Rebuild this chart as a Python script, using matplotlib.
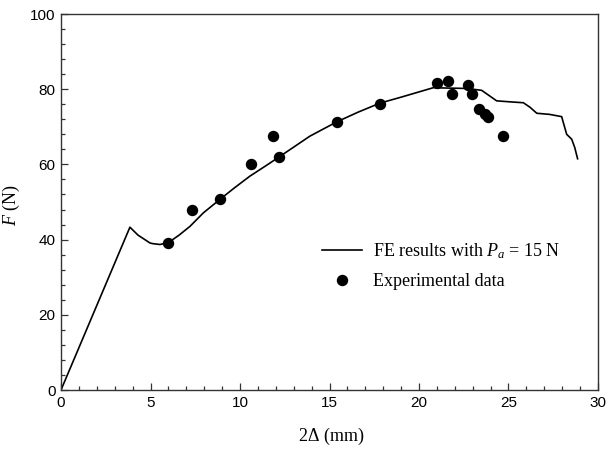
import matplotlib
matplotlib.use("Agg")
import matplotlib.pyplot as plt
from matplotlib.ticker import MultipleLocator

plt.rcParams['mathtext.fontset'] = 'custom'
plt.rcParams['mathtext.rm'] = 'Liberation Serif'
plt.rcParams['mathtext.it'] = 'Liberation Serif:italic'

# FE curve
fe_x = [0.0, 3.85, 4.3, 4.97, 5.16, 5.53, 6.0, 6.6, 7.2, 7.95, 8.88, 9.7, 10.56, 11.4, 12.16,
        13.0, 13.9, 15.4, 16.6, 17.82, 18.94, 20.8, 21.6, 22.66, 23.5, 24.34, 25.2, 25.83,
        26.2, 26.58, 27.3, 27.97, 28.1, 28.25, 28.53, 28.7, 28.86]
fe_y = [0.0, 43.3, 41.2, 39.1, 38.9, 38.7, 39.2, 41.2, 43.5, 47.1, 50.7, 53.8, 56.9, 59.5, 61.9,
        64.6, 67.5, 71.3, 73.9, 76.3, 77.8, 80.4, 80.3, 80.2, 79.7, 76.9, 76.6, 76.4,
        75.2, 73.6, 73.3, 72.7, 70.5, 68.0, 66.7, 64.5, 61.5]

# Experimental data
exp_x = [5.99, 7.3, 8.88, 10.6, 11.86, 12.16, 15.4, 17.82, 21.02, 21.6, 21.83, 22.72, 22.94,
         23.37, 23.69, 23.87, 24.71]
exp_y = [39.1, 47.8, 50.7, 60.2, 67.5, 61.9, 71.3, 76.0, 81.6, 82.05, 78.85, 81.15, 78.7,
         74.85, 73.5, 72.5, 67.5]

fig = plt.figure(figsize=(6.06, 4.54), dpi=100)
ax = fig.add_axes([61/606, 1-390/454, (598-61)/606, (390-14)/454])

ax.plot(fe_x, fe_y, color='black', lw=1.2, label=r'FE results with $P_a$ = 15 N')
ax.plot(exp_x, exp_y, 'o', color='black', ms=7.2, ls='none', label='Experimental data')

ax.set_xlim(0, 30)
ax.set_ylim(0, 100)
ax.xaxis.set_major_locator(MultipleLocator(5))
ax.xaxis.set_minor_locator(MultipleLocator(1))
ax.yaxis.set_major_locator(MultipleLocator(20))
ax.yaxis.set_minor_locator(MultipleLocator(4))
ax.tick_params(which='both', direction='in', top=False, right=False, color='#333333')
ax.tick_params(which='major', length=5, width=0.9, labelsize=11, pad=4)
ax.tick_params(which='minor', length=3, width=0.9)
for lab in ax.get_xticklabels() + ax.get_yticklabels():
    lab.set_family('Liberation Sans')
for s in ax.spines.values():
    s.set_color('#333333')
    s.set_linewidth(1.0)

ax.set_xlabel(r'2$\Delta$ (mm)', family='Liberation Serif', fontsize=13)
ax.set_ylabel(r'$F$ (N)', family='Liberation Serif', fontsize=13)
ax.xaxis.set_label_coords((331-61)/537, (390-426)/376)
ax.yaxis.set_label_coords((22-61)/537, (390-205)/376)

leg = ax.legend(loc='upper left', bbox_to_anchor=(313/606, 1-232/454), bbox_transform=fig.transFigure,
                frameon=False, prop={'family': 'Liberation Serif', 'size': 13},
                handlelength=2.2, handletextpad=0.6, borderpad=0, labelspacing=0.67)

fig.savefig('out.png', dpi=100)
